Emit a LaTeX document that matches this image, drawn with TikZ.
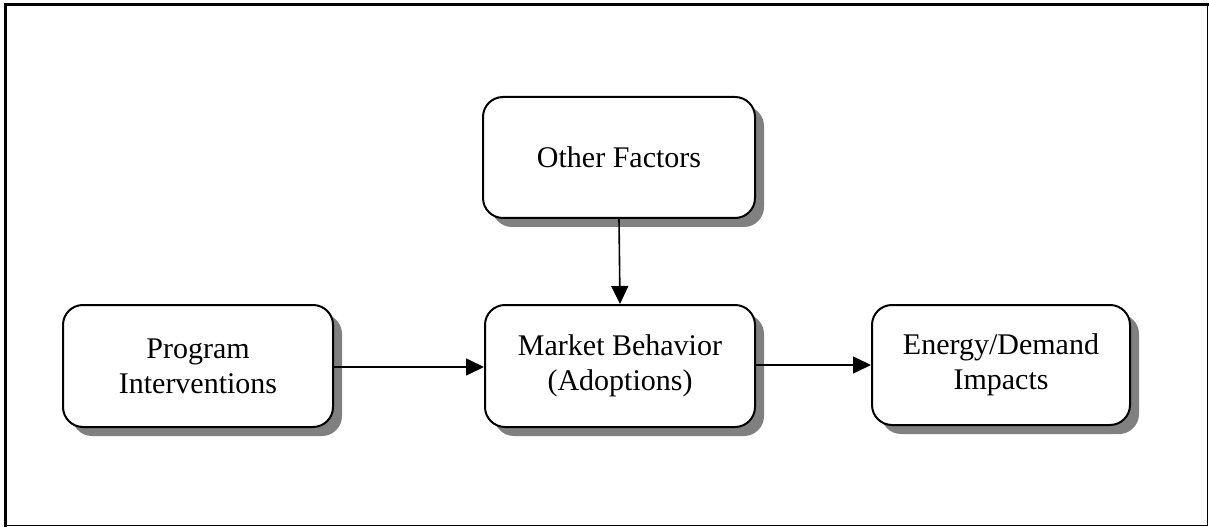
\documentclass[tikz,border=0pt]{standalone}
\usepackage{fontspec}
\setmainfont{Liberation Serif}
\usetikzlibrary{arrows.meta,shadows}
\tikzset{
  px/.style={x=0.75pt,y=-0.75pt},
  flowbox/.style={draw=black, line width=1.5pt, rounded corners=15pt, fill=white, align=center,
    font=\fontsize{22.5}{26.25}\selectfont, inner sep=0pt,
    drop shadow={shadow xshift=6.75pt, shadow yshift=-6.75pt, fill=black!50, opacity=1}},
  flowarrow/.style={line width=1.2pt, -{Triangle[length=13.5pt,width=12.75pt]}}
}
\begin{document}
\begin{tikzpicture}[px]
\useasboundingbox (0,0) rectangle (1209,527);
% frame
\draw[line width=2.25pt] (5.5,527) -- (5.5,4.5) -- (1209,4.5);
\draw[line width=0.9pt] (5.5,525.5) -- (1207.5,525.5) -- (1207.5,4.5);
% boxes
\node[flowbox, minimum width=204pt, minimum height=90.75pt] (other) at (619,157.5) {Other Factors};
\node[flowbox, minimum width=202.5pt, minimum height=91.5pt] (prog) at (198,366) {Program\\Interventions};
\node[flowbox, minimum width=202.5pt, minimum height=91.5pt] (market) at (620,366) {Market Behavior\\(Adoptions)};
\node[flowbox, minimum width=193.5pt, minimum height=90pt] (energy) at (1001,365) {Energy/Demand\\Impacts};
% arrows
\draw[flowarrow] (prog.east |- 0,367) -- (market.west |- 0,367);
\draw[flowarrow] (market.east |- 0,365) -- (energy.west |- 0,365);
\draw[flowarrow] (other.south) -- (market.north);
\end{tikzpicture}
\end{document}
